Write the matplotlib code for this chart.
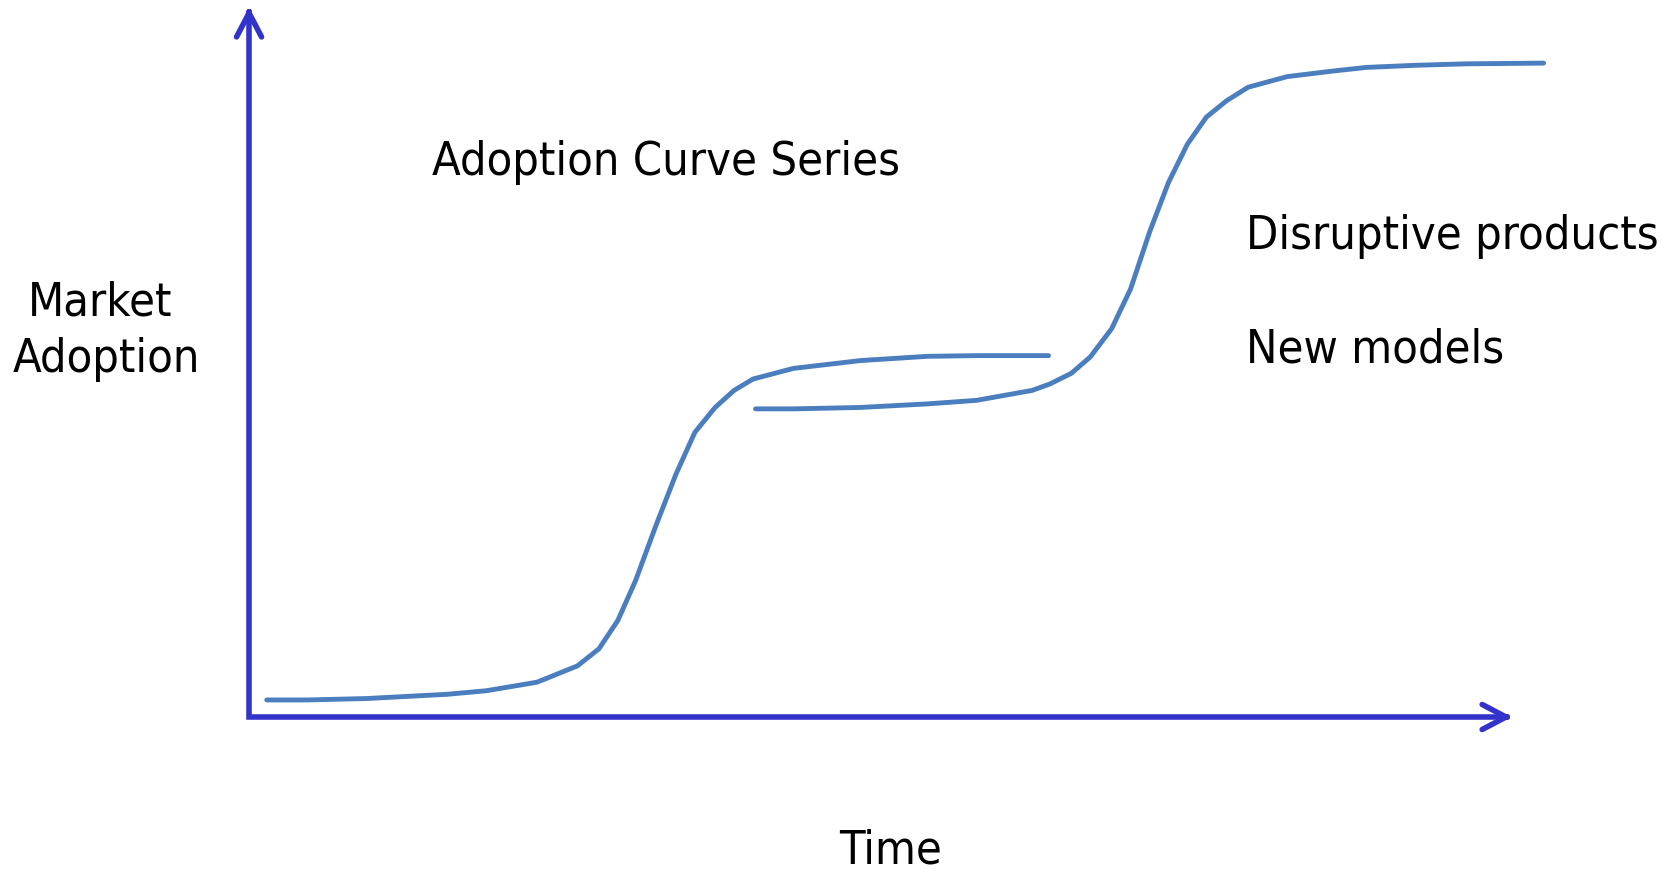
import matplotlib.pyplot as plt

# first generation of products: slow start, steep rise, plateau
gen1_time = [1.4, 4.6, 9.3, 12.5, 15.7, 18.8, 22.8, 26.0, 27.7, 29.2, 30.6, 32.2,
             33.8, 35.3, 36.9, 38.4, 39.9, 43.1, 48.4, 53.7, 57.6, 63.3]
gen1_adopt = [2.4, 2.4, 2.6, 2.9, 3.2, 3.7, 4.9, 7.2, 9.6, 13.6, 19.2, 26.9,
              34.2, 40.1, 43.6, 46.0, 47.6, 49.1, 50.2, 50.8, 50.9, 50.9]

# second generation starts below the first plateau and overtakes it
gen2_time = [40.1, 43.1, 48.4, 53.7, 57.6, 62.0, 63.4, 65.1, 66.6, 68.3, 69.8, 71.3,
             72.8, 74.3, 75.8, 77.4, 79.1, 82.2, 85.9, 88.5, 92.5, 96.4, 102.5]
gen2_adopt = [43.4, 43.4, 43.6, 44.1, 44.6, 46.0, 46.9, 48.4, 50.7, 54.7, 60.3, 68.3,
              75.3, 80.7, 84.5, 86.8, 88.7, 90.2, 91.0, 91.5, 91.8, 92.0, 92.1]

axis_color = '#3333cc'
curve_color = '#4a7ebf'
font = dict(family='DejaVu Sans', fontstretch='condensed', color='black', fontsize=33.7)

fig = plt.figure(figsize=(16.66, 8.70), dpi=100)
ax = fig.add_axes([0, 0, 1, 1])
ax.set_xlim(-19.72, 112.19)
ax.set_ylim(-21.41, 101.13)
ax.axis('off')

# axis shafts with a square corner, then open arrowheads at the ends
ax.plot([0, 0, 99.7], [99.4, 0, 0], color=axis_color, lw=4, solid_joinstyle='miter',
        solid_capstyle='butt')
arrow = dict(arrowstyle='->,head_length=0.86,head_width=0.45', color=axis_color,
             lw=4, shrinkA=0, shrinkB=0, mutation_scale=20, capstyle='round',
             joinstyle='round')
ax.annotate('', xy=(0, 100), xytext=(0, 99), arrowprops=arrow)
ax.annotate('', xy=(100, 0), xytext=(99.4, 0), arrowprops=arrow)

ax.plot(gen1_time, gen1_adopt, color=curve_color, lw=3.5, solid_capstyle='round',
        solid_joinstyle='round')
ax.plot(gen2_time, gen2_adopt, color=curve_color, lw=3.5, solid_capstyle='round',
        solid_joinstyle='round')

ax.text(-11.76, 56.76, 'Market', ha='center', va='baseline', **font)
ax.text(-11.3, 48.77, 'Adoption', ha='center', va='baseline', **font)
ax.text(14.5, 76.48, 'Adoption Curve Series', ha='left', va='baseline', **font)
ax.text(50.8, -20.46, 'Time', ha='center', va='baseline', **font)
ax.text(78.9, 66.1, 'Disruptive products', ha='left', va='baseline', **font)
ax.text(78.9, 50.1, 'New models', ha='left', va='baseline', **font)

fig.savefig('out.png', dpi=100)
